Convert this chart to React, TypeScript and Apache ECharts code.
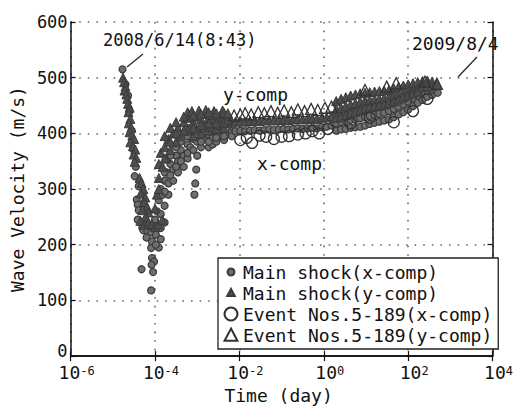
import React, { useEffect, useRef } from 'react';
import * as echarts from 'echarts';

const FONT = "'DejaVu Sans Mono', monospace";

const seriesNames = [
  'Main shock(x-comp)',
  'Main shock(y-comp)',
  'Event Nos.5-189(x-comp)',
  'Event Nos.5-189(y-comp)',
];

// [time (day), wave velocity (m/s)]
const mainShockX: [number, number][] = [
  [1.7e-5, 515],
  [2.0e-5, 488], [2.3e-5, 468], [2.5e-5, 440], [2.8e-5, 405], [3.0e-5, 372], [3.5e-5, 340],
  [3.3e-5, 323], [4.1e-5, 305], [3.7e-5, 281], [3.9e-5, 272], [4.1e-5, 262],
  [3.9e-5, 245], [4.8e-5, 240], [5.9e-5, 238], [7.3e-5, 236], [9.0e-5, 233], [1.11e-4, 228], [1.37e-4, 230], [1.69e-4, 240],
  [5.0e-5, 231], [5.3e-5, 226], [6.6e-5, 224], [8.1e-5, 222], [1.05e-4, 218],
  [6.3e-5, 213], [8.5e-5, 206], [8.1e-5, 194], [1.37e-4, 210], [1.23e-4, 195], [1.05e-4, 200],
  [8.5e-5, 176], [9.5e-5, 170], [8.3e-5, 164], [4.8e-5, 156], [9.0e-5, 151], [8.1e-5, 118],
  [1.0e-4, 245], [1.11e-4, 260], [1.23e-4, 280], [1.37e-4, 255], [1.37e-4, 300], [1.52e-4, 290],
  [1.69e-4, 270], [1.69e-4, 315], [1.87e-4, 330], [2.08e-4, 290], [2.08e-4, 310], [2.31e-4, 345],
  [2.7e-4, 315], [2.7e-4, 335], [3.16e-4, 360], [3.51e-4, 330], [3.51e-4, 350], [4.1e-4, 370],
  [4.8e-4, 340], [4.8e-4, 360], [5.93e-4, 355], [5.93e-4, 380], [6.9e-4, 375], [6.9e-4, 395],
  [8.1e-4, 390], [8.6e-4, 290], [9.0e-4, 310], [9.5e-4, 335], [1.0e-3, 360], [1.0e-3, 385],
  [1.23e-3, 375], [1.23e-3, 395], [1.52e-3, 390], [1.87e-3, 375], [1.87e-3, 398], [2.31e-3, 380],
  [2.31e-3, 392], [2.85e-3, 385], [2.85e-3, 400], [3.51e-3, 395], [4.33e-3, 388], [4.33e-3, 402],
  [5.34e-3, 398], [6.58e-3, 403],
  [1.69e-4, 295], [1.69e-4, 330], [2.31e-4, 325], [2.31e-4, 360], [3.16e-4, 340], [3.16e-4, 375],
  [4.1e-4, 350], [4.1e-4, 385], [5.93e-4, 365], [5.93e-4, 395], [5.93e-4, 410], [8.1e-4, 370],
  [8.1e-4, 405], [1.23e-3, 385], [1.23e-3, 410], [1.87e-3, 385], [1.87e-3, 415], [2.85e-3, 392],
  [2.85e-3, 415], [4.33e-3, 395], [4.33e-3, 418], [6.58e-3, 395], [6.58e-3, 412],
  [8.1e-3, 404], [1.05e-2, 405], [1.37e-2, 404], [1.78e-2, 405], [2.31e-2, 406], [3.0e-2, 405],
  [3.9e-2, 406], [5.07e-2, 407], [6.58e-2, 406], [8.55e-2, 407], [0.111, 408], [0.144, 407],
  [0.187, 408], [0.243, 409], [0.316, 408], [0.411, 409], [0.534, 410], [0.693, 409], [0.9, 411],
  [1.17, 412], [1.52, 414],
  [1.97, 405], [1.97, 418], [1.97, 432],
  [2.57, 407], [2.57, 420], [2.57, 434],
  [3.33, 408], [3.33, 422], [3.33, 436],
  [4.33, 410], [4.33, 424], [4.33, 438],
  [5.62, 411], [5.62, 425], [5.62, 440],
  [7.3, 412], [7.3, 427], [7.3, 442],
  [9.5, 414], [9.5, 429], [9.5, 444],
  [12.3, 417], [12.3, 431], [12.3, 446],
  [16, 419], [16, 433], [16, 448],
  [20.8, 421], [20.8, 435], [20.8, 450],
  [27, 423], [27, 437], [27, 452],
  [35, 425], [35, 440], [35, 455],
  [45.6, 429], [45.6, 444], [45.6, 458],
  [59.3, 434], [59.3, 448], [59.3, 462],
  [77, 438], [77, 452], [77, 466],
  [100, 443], [100, 457], [100, 470],
  [130, 449], [130, 462], [130, 474],
  [169, 455], [169, 467], [169, 478],
  [219, 460], [219, 471],
  [285, 466], [285, 476],
  [370, 469], [370, 478],
  [500, 473],
];

const mainShockY: [number, number][] = [
  [1.75e-5, 500], [1.85e-5, 492], [2.0e-5, 484], [1.9e-5, 477], [2.1e-5, 470], [2.2e-5, 462],
  [2.3e-5, 453], [2.5e-5, 446], [2.35e-5, 438], [2.6e-5, 426], [2.4e-5, 418], [2.75e-5, 410],
  [2.5e-5, 402], [2.9e-5, 396], [3.2e-5, 390], [2.6e-5, 384], [3.0e-5, 377], [3.4e-5, 371],
  [3.1e-5, 362], [3.6e-5, 356], [3.3e-5, 349],
  [4.3e-5, 320], [4.8e-5, 311], [5.3e-5, 300], [4.6e-5, 292], [5.9e-5, 285], [5.5e-5, 276],
  [6.5e-5, 268], [5.0e-5, 262], [7.0e-5, 258], [6.0e-5, 250],
  [4.5e-5, 243], [5.6e-5, 236], [7.0e-5, 240], [8.5e-5, 237], [1.0e-4, 232], [1.2e-4, 236], [1.5e-4, 245],
  [1.0e-4, 265], [1.11e-4, 290], [1.23e-4, 320], [1.23e-4, 345], [1.37e-4, 365], [1.52e-4, 340],
  [1.69e-4, 375], [1.87e-4, 355], [2.08e-4, 390], [2.31e-4, 370], [2.7e-4, 400], [3.16e-4, 385],
  [3.51e-4, 410], [4.1e-4, 395], [4.8e-4, 420], [5.93e-4, 428], [5.93e-4, 405], [6.9e-4, 434],
  [8.1e-4, 420], [1.0e-3, 430], [1.23e-3, 425], [1.52e-3, 435], [1.87e-3, 428], [2.31e-3, 433],
  [2.85e-3, 425], [3.51e-3, 432], [4.33e-3, 428], [5.34e-3, 430], [8.1e-4, 395], [1.0e-3, 405],
  [1.23e-3, 400], [1.52e-3, 410], [1.87e-3, 405], [2.31e-3, 412], [2.85e-3, 408], [3.51e-3, 415],
  [4.33e-3, 410], [5.34e-3, 418], [6.58e-3, 422],
  [5.93e-4, 438], [7.5e-4, 440], [1.1e-3, 441], [1.6e-3, 442], [2.5e-3, 440], [4.0e-3, 441],
  [1.23e-4, 300], [1.69e-4, 355], [1.69e-4, 395], [2.31e-4, 385], [2.31e-4, 410], [3.16e-4, 400],
  [3.16e-4, 420], [4.8e-4, 405], [4.8e-4, 430], [8.1e-4, 410], [8.1e-4, 432], [1.23e-3, 415],
  [1.23e-3, 435], [1.87e-3, 418], [1.87e-3, 438], [2.85e-3, 418], [2.85e-3, 436], [4.33e-3, 420],
  [4.33e-3, 437], [5.34e-3, 425], [5.34e-3, 436],
  [8.1e-3, 421], [1.05e-2, 422], [1.37e-2, 421], [1.78e-2, 422], [2.31e-2, 423], [3.0e-2, 422],
  [3.9e-2, 423], [5.07e-2, 424], [6.58e-2, 423], [8.55e-2, 424], [0.111, 425], [0.144, 424],
  [0.187, 425], [0.243, 426], [0.316, 425], [0.411, 426], [0.534, 427], [0.693, 426], [0.9, 428],
  [1.17, 429], [1.52, 431],
  [1.97, 458], [1.97, 443], [1.97, 428],
  [2.57, 462], [2.57, 446], [2.57, 430],
  [3.33, 465], [3.33, 449], [3.33, 433],
  [4.33, 468], [4.33, 452], [4.33, 436],
  [5.62, 470], [5.62, 454], [5.62, 439],
  [7.3, 472], [7.3, 457], [7.3, 442],
  [9.5, 473], [9.5, 459], [9.5, 445],
  [12.3, 474], [12.3, 460], [12.3, 447],
  [16, 475], [16, 461], [16, 449],
  [20.8, 476], [20.8, 462], [20.8, 450],
  [27, 477], [27, 463], [27, 452],
  [35, 478], [35, 465], [35, 455],
  [45.6, 481], [45.6, 468], [45.6, 458],
  [59.3, 484], [59.3, 471], [59.3, 461],
  [77, 486], [77, 474], [77, 465],
  [100, 488], [100, 476], [100, 468],
  [130, 490], [130, 478], [130, 472],
  [169, 492], [169, 480], [169, 475],
  [219, 494], [219, 483],
  [285, 495], [285, 485],
  [370, 493], [370, 484],
  [481, 488],
];

const eventX: [number, number][] = [
  [1.05e-2, 388], [1.5e-2, 392], [2.0e-2, 383], [3.0e-2, 396], [4.3e-2, 394], [6.58e-2, 390],
  [0.1, 394], [0.15, 395], [0.243, 398], [0.37, 400], [0.534, 404], [0.78, 400], [1.25, 408],
  [4.33, 418], [12.3, 428], [45.6, 420], [130, 440], [285, 462],
];

const eventY: [number, number][] = [
  [7.5e-3, 432], [1.05e-2, 434], [1.37e-2, 436], [1.9e-2, 434], [2.8e-2, 438], [3.9e-2, 436],
  [5.6e-2, 440], [8.1e-2, 437], [0.115, 441], [0.17, 438], [0.243, 443], [0.35, 440],
  [0.5, 444], [0.72, 442], [1.07, 446], [1.52, 448],
  [9.5, 478], [31, 484], [52, 490], [250, 493], [481, 489],
];

const legendIcons = [
  'path://M0,0M24,24M12,6A6,6,0,1,1,11.99,6Z',
  'path://M0,0M24,24M12,5L18.5,17L5.5,17Z',
  'path://M0,0M24,24M12,1A11,11,0,1,1,11.99,1Z',
  'path://M0,0M24,24M12,1L23,22L1,22Z',
];

export default function App() {
  const ref = useRef<HTMLDivElement>(null);
  useEffect(() => {
    if (!ref.current) return;
    const chart = echarts.init(ref.current, undefined, { renderer: 'svg' });
    const axisLine = { lineStyle: { color: '#111', width: 1.5 } };
    const tick = { inside: true, length: 5, lineStyle: { color: '#111', width: 1.2 } };
    const grid = { show: true, lineStyle: { color: '#666', width: 1.6, type: [1.6, 7] as any } };
    const xBase = { type: 'log', logBase: 10, min: 1e-6, max: 1e4, interval: 2 } as any;
    chart.setOption({
      animation: false,
      backgroundColor: '#fff',
      grid: { left: 68, right: 8, top: 22, bottom: 52 },
      xAxis: [
        {
          ...xBase,
          position: 'bottom',
          axisLine,
          axisTick: tick,
          splitLine: grid,
          axisLabel: {
            interval: 0,
            margin: 9,
            color: '#111',
            formatter: (v: number) => `{b|10}{s|${Math.round(Math.log10(v))}}`,
            rich: {
              b: { fontFamily: FONT, fontSize: 18, color: '#111', padding: [0, 0, 0, 12], lineHeight: 16, verticalAlign: 'bottom' },
              s: { fontFamily: FONT, fontSize: 12, color: '#111', lineHeight: 16, verticalAlign: 'top' },
            },
          },
          name: 'Time (day)',
          nameLocation: 'middle',
          nameGap: 28,
          nameTextStyle: { fontFamily: FONT, fontSize: 18, color: '#111', padding: [0, 6, 0, 0] },
        },
        { ...xBase, position: 'top', axisLine, axisTick: tick, axisLabel: { show: false }, splitLine: { show: false } },
      ],
      yAxis: [
        {
          type: 'value', min: 0, max: 600, interval: 100, position: 'left',
          axisLine: { show: true, ...axisLine }, axisTick: { show: true, ...tick }, splitLine: grid,
          axisLabel: {
            margin: 3, fontFamily: FONT, fontSize: 17, color: '#111',
            formatter: (v: number) => (v === 0 ? '{z|0}' : String(v)),
            rich: { z: { fontFamily: FONT, fontSize: 17, color: '#111', padding: [0, 0, 10, 0] } },
          },
          name: 'Wave Velocity (m/s)', nameLocation: 'middle', nameGap: 29,
          nameTextStyle: { fontFamily: FONT, fontSize: 18, color: '#111' },
        },
        {
          type: 'value', min: 0, max: 600, interval: 100, position: 'right',
          axisLine: { show: true, ...axisLine }, axisTick: { show: true, ...tick },
          axisLabel: { show: false }, splitLine: { show: false },
        },
      ],
      legend: {
        orient: 'vertical', left: 218, top: 258, padding: [4, 6, 4, 5], itemGap: 1,
        itemWidth: 14, itemHeight: 14, selectedMode: false,
        borderColor: '#222', borderWidth: 1.3, backgroundColor: '#fff',
        textStyle: { fontFamily: FONT, fontSize: 18, color: '#111', lineHeight: 20 },
        data: seriesNames.map((n, i) => ({ name: n, icon: legendIcons[i] })),
      },
      series: [
        {
          name: seriesNames[0], type: 'scatter', data: mainShockX, symbol: 'circle', symbolSize: 7, z: 2,
          itemStyle: { color: '#6e6e6e', borderColor: '#3a3a3a', borderWidth: 1.2, opacity: 1 },
        },
        {
          name: seriesNames[1], type: 'scatter', data: mainShockY, symbol: 'triangle', symbolSize: 9, z: 3,
          itemStyle: { color: '#4d4d4d', borderColor: '#3a3a3a', borderWidth: 1, opacity: 1 },
        },
        {
          name: seriesNames[2], type: 'scatter', data: eventX, symbol: 'circle', symbolSize: 11, z: 4,
          itemStyle: { color: 'rgba(255,255,255,0)', borderColor: '#333', borderWidth: 1.3, opacity: 1 },
        },
        {
          name: seriesNames[3], type: 'scatter', data: eventY, symbol: 'triangle', symbolSize: 11, z: 4,
          itemStyle: { color: 'rgba(255,255,255,0)', borderColor: '#333', borderWidth: 1.3, opacity: 1 },
        },
      ],
      graphic: [
        { type: 'text', left: 103, top: 31, style: { text: '2008/6/14(8:43)', font: `17px ${FONT}`, fill: '#111' } },
        { type: 'line', shape: { x1: 127, y1: 67, x2: 143, y2: 54 }, style: { stroke: '#222', lineWidth: 1.2 } },
        { type: 'text', left: 412, top: 34, style: { text: '2009/8/4', font: `18px ${FONT}`, fill: '#111' } },
        { type: 'line', shape: { x1: 458, y1: 77, x2: 477, y2: 57 }, style: { stroke: '#222', lineWidth: 1.2 } },
        { type: 'text', left: 223, top: 85, style: { text: 'y-comp', font: `18px ${FONT}`, fill: '#111' } },
        { type: 'text', left: 257, top: 154, style: { text: 'x-comp', font: `18px ${FONT}`, fill: '#111' } },
      ],
    });
    return () => chart.dispose();
  }, []);
  return <div ref={ref} style={{ position: 'absolute', left: 0, top: 0, width: 516, height: 409 }} />;
}
